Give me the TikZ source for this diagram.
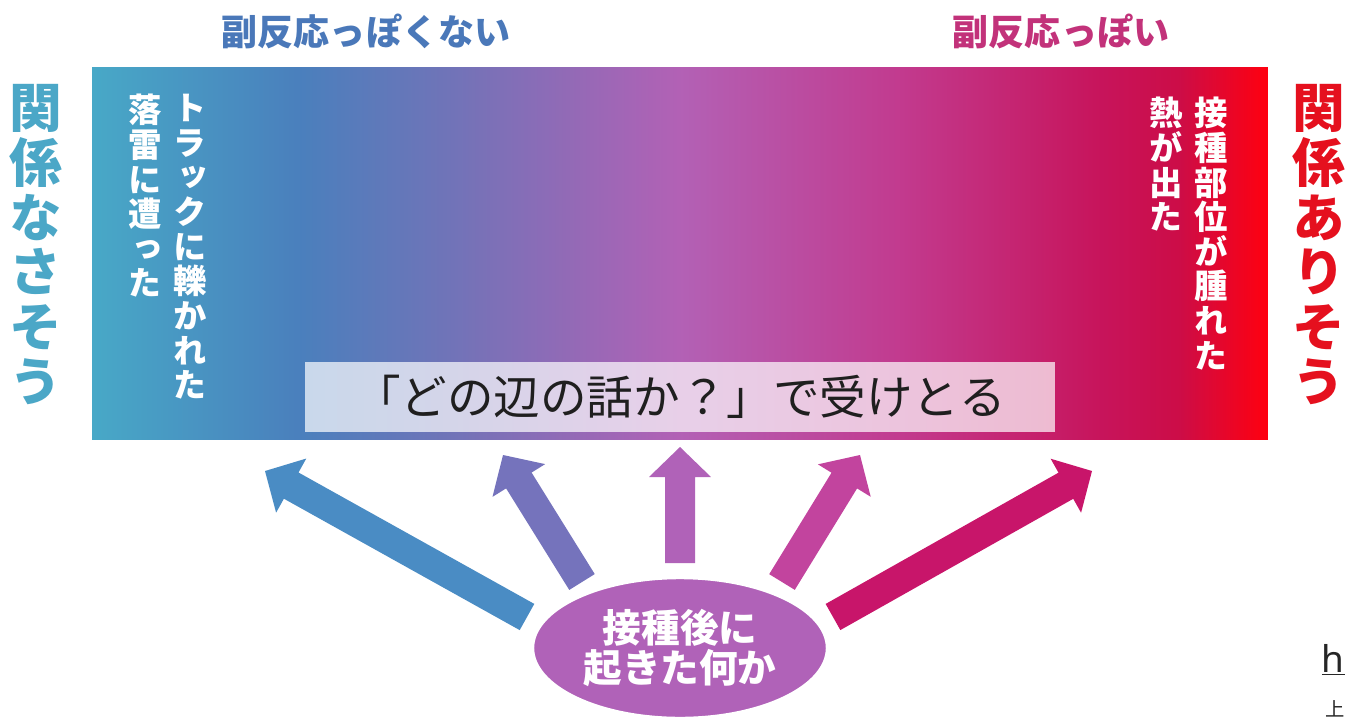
\documentclass[tikz,border=0pt]{standalone}
\usepackage{fontspec}
\usetikzlibrary{calc,shapes.geometric}
\newfontfamily\jp{Noto Sans CJK JP}
\newfontfamily\vjp[RawFeature=+vert]{Noto Sans CJK JP}
\newfontfamily\lat{Noto Sans}
\definecolor{sideL}{HTML}{4BA7C7}
\definecolor{sideR}{HTML}{E5101E}
\definecolor{topL}{HTML}{4A78B9}
\definecolor{topR}{HTML}{C2327A}
\definecolor{arA}{HTML}{4A8CC4}
\definecolor{arB}{HTML}{7573BC}
\definecolor{arC}{HTML}{B062B8}
\definecolor{arD}{HTML}{C2449E}
\definecolor{arE}{HTML}{C8156A}
\definecolor{ellC}{HTML}{B062B8}
\pgfdeclarehorizontalshading{barshade}{100bp}{%
rgb(0bp)=(0.28,0.66,0.78);
rgb(25bp)=(0.28,0.66,0.78);
rgb(33.8bp)=(0.29,0.50,0.74);
rgb(40.6bp)=(0.45,0.45,0.72);
rgb(50bp)=(0.70,0.38,0.71);
rgb(59.3bp)=(0.76,0.23,0.56);
rgb(67.8bp)=(0.78,0.08,0.36);
rgb(71.2bp)=(0.80,0.05,0.28);
rgb(75bp)=(1,0,0.06);
rgb(100bp)=(1,0,0.06)}
\newcommand\blockarr[3]{%
  \coordinate (#3n) at ($(#3)!0.6cm!(#2)$);
  \fill[#1] ($(#2)!0.3cm!90:(#3)$) -- ($(#3n)!0.3cm!90:(#3)$) -- ($(#3n)!0.62cm!90:(#3)$) -- (#3)
    -- ($(#3n)!0.62cm!-90:(#3)$) -- ($(#3n)!0.3cm!-90:(#3)$) -- ($(#2)!0.3cm!-90:(#3)$) -- cycle;}
\begin{document}
\begin{tikzpicture}[x=0.02cm,y=-0.02cm,
  vcol/.style={anchor=north, inner sep=0, align=center, text=white,
    font=\vjp\bfseries\fontsize{19}{19.7}\selectfont},
  sidelabel/.style={anchor=north, inner sep=0, align=center,
    font=\vjp\bfseries\fontsize{30}{31.2}\selectfont},
  toplabel/.style={inner sep=0, font=\jp\bfseries\fontsize{20.5}{24}\selectfont}]
\useasboundingbox (0,0) rectangle (1347,721);
\clip (0,0) rectangle (1347,721);
\fill[white] (0,0) rectangle (1347,721);

% top labels
\node (tl) [toplabel, text=topL] at (366,31) {副反応っぽくない};
\node (tr) [toplabel, text=topR] at (1061,31) {副反応っぽい};

% side labels
\node (sl) [sidelabel, text=sideL] at (36,84) {関\\係\\な\\さ\\そ\\う};
\node (sr) [sidelabel, text=sideR] at (1319,84) {関\\係\\あ\\り\\そ\\う};

% gradient bar
\node (bar) [shading=barshade, minimum width=23.52cm, minimum height=7.46cm, inner sep=0] at (680,253.5) {};

% vertical texts inside bar
\node (l1) [vcol] at (190,94) {ト\\ラ\\ッ\\ク\\に\\轢\\か\\れ\\た};
\node (l2) [vcol] at (145,94) {落\\雷\\に\\遭\\っ\\た};
\node (r1) [vcol] at (1211,97) {接\\種\\部\\位\\が\\腫\\れ\\た};
\node (r2) [vcol] at (1166,97) {熱\\が\\出\\た};

% message box
\node (msg) [fill=white, fill opacity=0.7, text opacity=1, text=black!88,
  minimum width=15cm, minimum height=1.4cm, inner sep=0,
  font=\jp\fontsize{26.5}{30}\selectfont] at (680,397) {「どの辺の話か？」で受けとる};

% arrows
\coordinate (s1) at (527,617); \coordinate (t1) at (265,471);
\coordinate (s2) at (582,582); \coordinate (t2) at (503,455);
\coordinate (s3) at (680,563); \coordinate (t3) at (680,447);
\coordinate (s4) at (782,582); \coordinate (t4) at (860,455);
\coordinate (s5) at (833,617); \coordinate (t5) at (1092,471);
\blockarr{arA}{s1}{t1}
\blockarr{arB}{s2}{t2}
\blockarr{arC}{s3}{t3}
\blockarr{arD}{s4}{t4}
\blockarr{arE}{s5}{t5}

% source ellipse
\node (src) [ellipse, fill=ellC, draw=white, line width=2.5pt, minimum width=5.92cm,
  minimum height=2.84cm, inner sep=0, align=center, text=white,
  font=\jp\bfseries\fontsize{22}{22.5}\selectfont] at (680,648) {接種後に\\起きた何か};

% link text at right edge
\node (lnk) [anchor=base east, inner sep=0, font=\lat\fontsize{21}{24}\selectfont, text=black!85] at (1345,672) {\underline{h}};
\node (lnk2) [anchor=base east, inner sep=0, font=\jp\fontsize{11}{13}\selectfont, text=black!85] at (1345,716) {上};
\end{tikzpicture}
\end{document}
